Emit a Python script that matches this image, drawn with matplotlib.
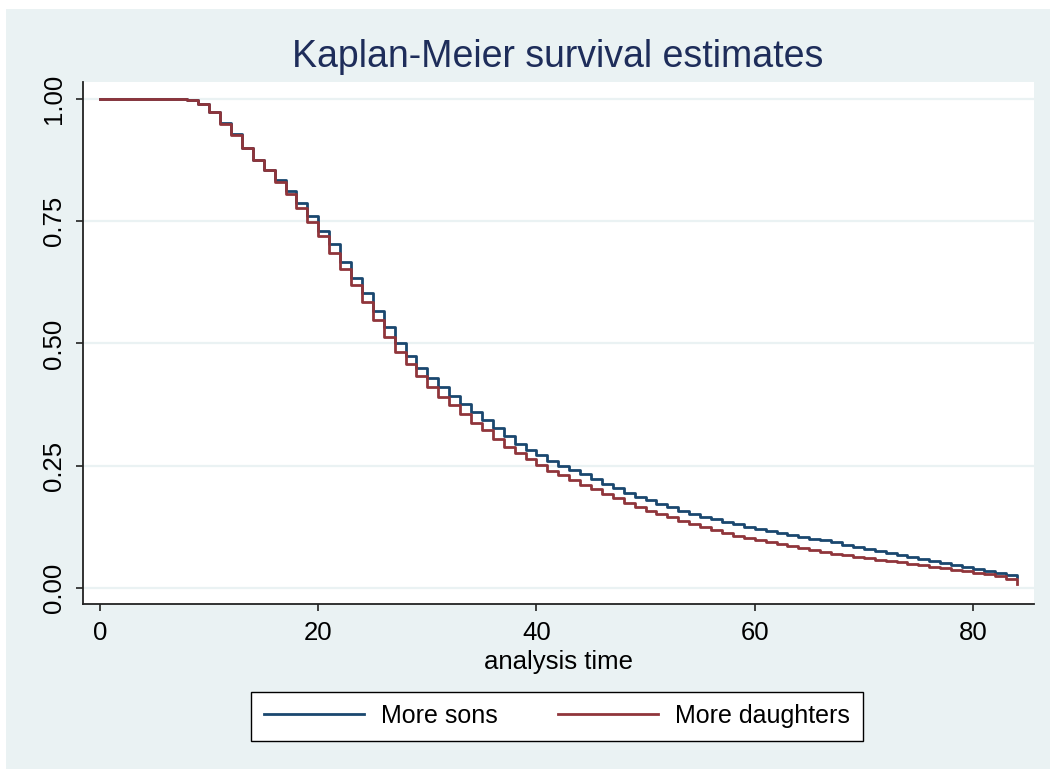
import numpy as np
import matplotlib.pyplot as plt
from matplotlib.patches import Rectangle

# Kaplan-Meier estimates, one value per integer time 0..84
t = np.arange(0, 85)
sons = [1.0, 1.0, 1.0, 1.0, 1.0, 1.0, 1.0, 1.0, 0.998, 0.991,
        0.973, 0.951, 0.928, 0.900, 0.876, 0.855, 0.834, 0.813, 0.787, 0.760,
        0.731, 0.703, 0.666, 0.634, 0.604, 0.566, 0.533, 0.501, 0.475, 0.450,
        0.429, 0.412, 0.393, 0.377, 0.359, 0.344, 0.328, 0.310, 0.295, 0.283,
        0.271, 0.259, 0.250, 0.241, 0.232, 0.223, 0.213, 0.204, 0.195, 0.186,
        0.179, 0.172, 0.165, 0.157, 0.151, 0.145, 0.140, 0.135, 0.130, 0.125,
        0.121, 0.117, 0.113, 0.109, 0.105, 0.101, 0.097, 0.093, 0.088, 0.084,
        0.080, 0.076, 0.072, 0.068, 0.064, 0.060, 0.055, 0.051, 0.047, 0.043,
        0.039, 0.035, 0.031, 0.026, 0.022]
daughters = [1.0, 1.0, 1.0, 1.0, 1.0, 1.0, 1.0, 1.0, 0.998, 0.990,
             0.973, 0.950, 0.927, 0.899, 0.875, 0.854, 0.830, 0.805, 0.777, 0.748,
             0.719, 0.686, 0.653, 0.620, 0.585, 0.548, 0.514, 0.482, 0.458, 0.433,
             0.410, 0.391, 0.374, 0.356, 0.338, 0.322, 0.305, 0.289, 0.275, 0.263,
             0.252, 0.240, 0.230, 0.221, 0.211, 0.202, 0.193, 0.183, 0.174, 0.165,
             0.157, 0.151, 0.144, 0.137, 0.131, 0.125, 0.119, 0.113, 0.107, 0.102,
             0.097, 0.093, 0.089, 0.085, 0.081, 0.078, 0.074, 0.070, 0.067, 0.064,
             0.061, 0.058, 0.055, 0.052, 0.049, 0.046, 0.043, 0.040, 0.037, 0.034,
             0.031, 0.029, 0.025, 0.018, 0.008]
labels = ['More sons', 'More daughters']
xticks = [0, 20, 40, 60, 80]
yticks = [0.0, 0.25, 0.5, 0.75, 1.0]

bg = '#EAF2F3'
navy = '#1A476F'
maroon = '#90353B'
plt.rcParams['font.family'] = ['Liberation Sans', 'DejaVu Sans']

fig = plt.figure(figsize=(10.5, 7.69), dpi=100)
fig.patch.set_facecolor('white')
fig.patches.append(Rectangle((6/1050, 0), 1 - 6/1050, 1 - 9/769, transform=fig.transFigure,
                             facecolor=bg, edgecolor='none', zorder=-5))

ax = fig.add_axes([83/1050, 165/769, 951/1050, 522/769])
ax.set_zorder(1)
ax.set_facecolor('white')
ax.step(t, sons, where='post', color=navy, lw=2.0, label=labels[0], zorder=3)
ax.step(t, daughters, where='post', color=maroon, lw=2.0, label=labels[1], zorder=3)

ax.set_xlim(-1.56, 85.6)
ax.set_ylim(-0.033, 1.035)
ax.set_xticks(xticks)
ax.set_yticks(yticks)
ax.set_yticklabels(['0.00', '0.25', '0.50', '0.75', '1.00'], rotation=90, va='center')
ax.tick_params(axis='both', direction='out', length=5, width=1.2, colors='#222222',
               labelsize=18.5, labelcolor='black')
ax.tick_params(axis='y', pad=7)
ax.tick_params(axis='x', pad=7)
ax.grid(axis='y', color=bg, lw=1.6)
ax.set_axisbelow(True)
for s in ['top', 'right']:
    ax.spines[s].set_visible(False)
for s in ['left', 'bottom']:
    ax.spines[s].set_color('#222222')
    ax.spines[s].set_linewidth(1.3)

fig.text(558/1050, (769-57)/769, 'Kaplan-Meier survival estimates', ha='center', va='center',
         fontsize=27, color='#1E2D5A')
fig.text(558/1050, (769-662)/769, 'analysis time', ha='center', va='center', fontsize=18.5)

leg = fig.legend(loc='center', bbox_to_anchor=(557/1050, (769-716)/769), ncol=2, fontsize=18,
                 frameon=True, fancybox=False, framealpha=1, handlelength=4.0,
                 columnspacing=2.4, borderpad=0.5, handletextpad=0.7)
leg.get_frame().set_edgecolor('black')
leg.get_frame().set_linewidth(1.0)
leg.get_frame().set_facecolor('white')

fig.savefig('out.png', dpi=100, facecolor=fig.get_facecolor())
